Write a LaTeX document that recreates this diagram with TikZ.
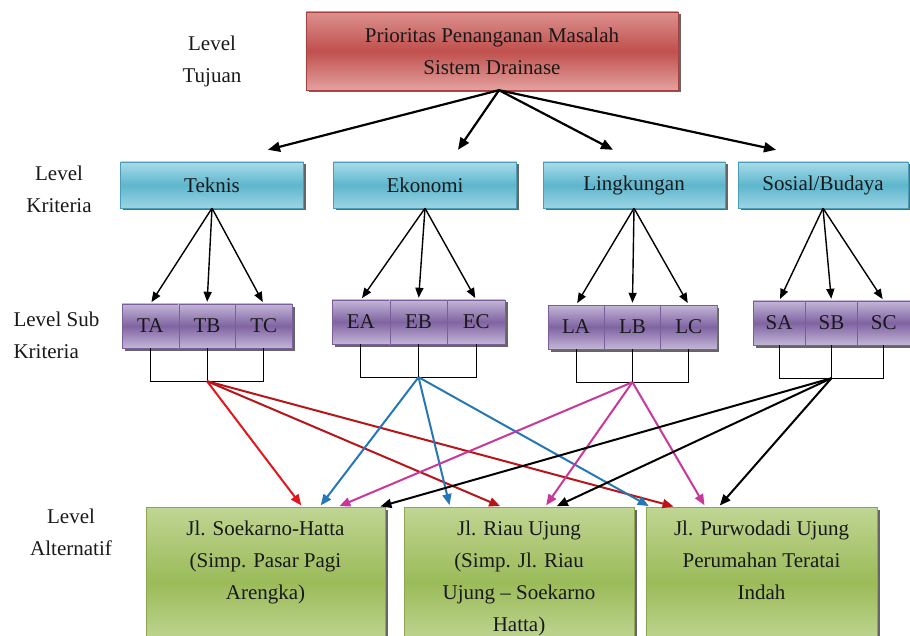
\documentclass[tikz,border=0pt]{standalone}
\usepackage{fontspec}
\setmainfont{Liberation Serif}
\usetikzlibrary{arrows.meta,calc,shadows}
\definecolor{goalred}{HTML}{C0504D}
\definecolor{goallight}{HTML}{E3A19F}
\definecolor{goaledge}{HTML}{A9403D}
\definecolor{critcyan}{HTML}{4BACC6}
\definecolor{critlight}{HTML}{A9DCEA}
\definecolor{critedge}{HTML}{4A9DB5}
\definecolor{subpurple}{HTML}{8064A2}
\definecolor{sublight}{HTML}{C3B5D7}
\definecolor{subedge}{HTML}{7A5F9C}
\definecolor{altgreen}{HTML}{9BBB59}
\definecolor{altlight}{HTML}{C9DCA2}
\definecolor{altedge}{HTML}{8AA84F}
\definecolor{arrowred}{HTML}{E3161B}
\definecolor{arrowdark}{HTML}{B81518}
\definecolor{arrowblue}{HTML}{2577B5}
\definecolor{arrowmag}{HTML}{C8389A}

\begin{document}
\begin{tikzpicture}[x=1pt,y=-1pt,
 every node/.style={font=\fontsize{21}{32}\selectfont,text=black!90},
 boxbase/.style={draw,thin,inner sep=2pt,
   drop shadow={shadow xshift=2.5pt,shadow yshift=-2.5pt,fill=black!75,opacity=.8}},
 goalbox/.style={boxbase,draw=goaledge,top color=goallight!80!goalred,bottom color=goallight,
   middle color=goalred,minimum width=372pt,minimum height=78pt,align=center},
 critbox/.style={boxbase,draw=critedge,top color=critlight,bottom color=critlight!85!critcyan,
   middle color=critcyan!80!critlight,minimum height=46pt},
 subbox/.style={boxbase,draw=subedge,top color=sublight,bottom color=sublight,
   middle color=subpurple,minimum height=44pt},
 altbox/.style={boxbase,draw=altedge,top color=altlight!80!altgreen,bottom color=altlight,
   middle color=altgreen,minimum height=150pt,anchor=north},
 alttext/.style={anchor=north,align=center,inner sep=0pt},
 lvl/.style={align=center},
 bigarrow/.style={-{Triangle[length=12pt,width=10pt]},line width=2.2pt},
 subarrow/.style={-{Triangle[length=10pt,width=8pt]},line width=1.4pt,shorten >=2pt},
 altarrow/.style={-{Triangle[length=11pt,width=9pt]},line width=2pt,shorten >=2pt},
 bracket/.style={line width=.8pt,black}]
\useasboundingbox (0,0) rectangle (910,636);
% level labels
\node[lvl] (lvtujuan) at (212,61) {Level\\Tujuan};
\node[lvl] (lvkriteria) at (59,189) {Level\\Kriteria};
\node[align=left,anchor=west] (lvsub) at (10,335) {Level Sub\\Kriteria};
\node[lvl] (lvalt) at (71,532) {Level\\Alternatif};
% goal and criteria
\node[goalbox] (goal) at (492,51) {Prioritas Penanganan Masalah\\Sistem Drainase};
\node[critbox,minimum width=183pt] (teknis) at (212,185) {Teknis};
\node[critbox,minimum width=183pt] (ekonomi) at (425,185) {Ekonomi};
\node[critbox,minimum width=182pt] (lingkungan) at (634,185) {Lingkungan};
\node[critbox,minimum width=170pt] (sosial) at (823,185) {Sosial/Budaya};
\foreach \c/\dx in {teknis/56,ekonomi/33,lingkungan/-21,sosial/-47}
  \draw[bigarrow] ([xshift=7pt]goal.south) -- ([xshift=\dx pt,yshift=12pt]\c.north);
% sub criteria
\foreach \g/\x/\y/\w in {T/122/326/56.7,E/332/322/57.7,L/548/327/56.3,S/753/323/52.3}{
  \foreach \s [count=\k] in {A,B,C}
    \node[subbox,minimum width=\w pt] (\g\s) at ({\x+(\k-0.5)*\w},\y) {\g\s};
  \coordinate (\g J) at ([yshift=-33pt]\g B.south);
  \draw[bracket] (\g A.south) |- (\g J) -| (\g C.south);
  \draw[bracket] (\g B.south) -- (\g J);
}
\foreach \c/\g in {teknis/T,ekonomi/E,lingkungan/L,sosial/S}
  \foreach \s in {A,B,C}
    \draw[subarrow] (\c.south) -- (\g\s.north);
% alternatives
\node[altbox,minimum width=239pt] (alt1) at (265.5,507) {};
\node[altbox,minimum width=230pt] (alt2) at (519,507) {};
\node[altbox,minimum width=231pt] (alt3) at (761.5,507) {};
\node[alttext] (alt1txt) at ([yshift=-14pt]alt1.north) {Jl. Soekarno-Hatta\\(Simp. Pasar Pagi\\Arengka)};
\node[alttext] (alt2txt) at ([yshift=-14pt]alt2.north) {Jl. Riau Ujung\\(Simp. Jl. Riau\\Ujung -- Soekarno\\Hatta)};
\node[alttext] (alt3txt) at ([yshift=-14pt]alt3.north) {Jl. Purwodadi Ujung\\Perumahan Teratai\\Indah};
\foreach \g/\a/\dx/\col in {T/alt1/37/arrowred,T/alt2/-17/arrowdark,T/alt3/-86/arrowdark,
    E/alt1/54/arrowblue,E/alt2/-69/arrowblue,E/alt3/-111/arrowblue,
    L/alt1/72/arrowmag,L/alt2/26/arrowmag,L/alt3/-56/arrowmag,
    S/alt1/113/black,S/alt2/36/black,S/alt3/-43/black}
  \draw[altarrow,\col] (\g J) -- ([xshift=\dx pt]\a.north);
\end{tikzpicture}
\end{document}
